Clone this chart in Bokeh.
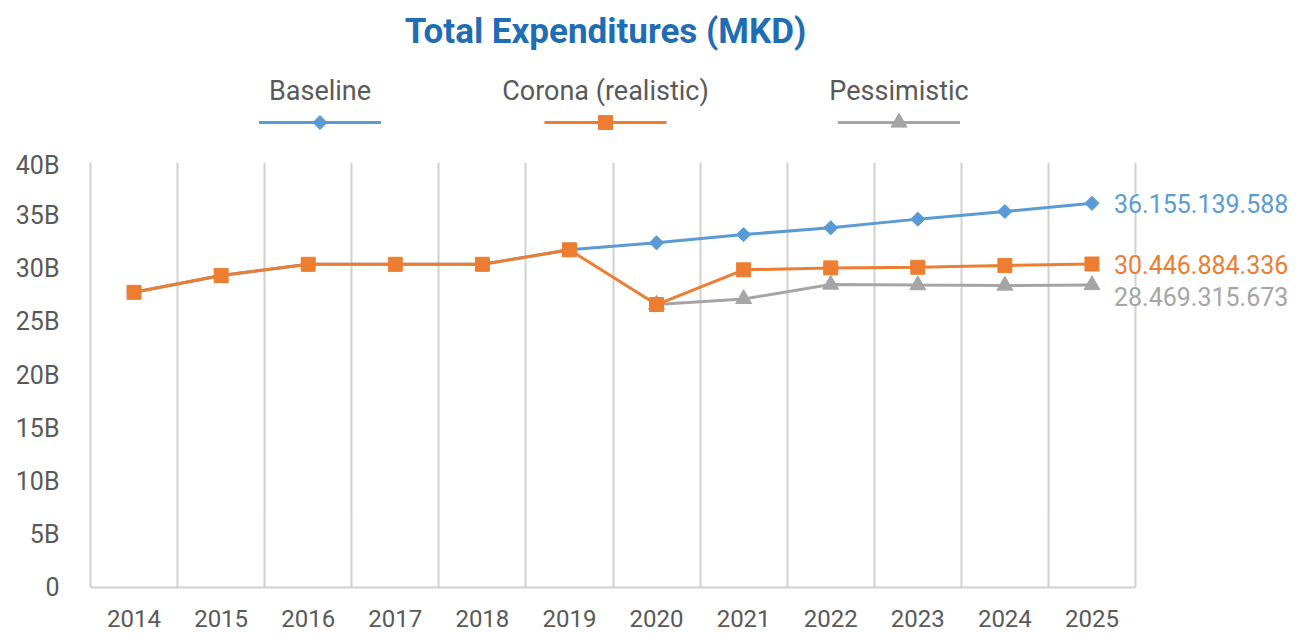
import numpy as np
from bokeh.plotting import figure
from bokeh.models import ColumnDataSource, Range1d, FixedTicker, CustomJSTickFormatter, LabelSet
from bokeh.layouts import column
from bokeh.core.properties import value
from bokeh.embed import file_html
from bokeh.resources import INLINE

# ---------------- data ----------------
title_text = "Total Expenditures (MKD)"
years = ["2014", "2015", "2016", "2017", "2018", "2019",
         "2020", "2021", "2022", "2023", "2024", "2025"]
series_names = ["Baseline", "Corona (realistic)", "Pessimistic"]
series_colors = ["#5B9BD5", "#ED7D31", "#A5A5A5"]

# values in billions of MKD
baseline_b = [27.78, 29.36, 30.42, 30.42, 30.42, 31.78,
              32.44, 33.22, 33.85, 34.67, 35.39, 36.155139588]
corona_b = [27.78, 29.36, 30.42, 30.42, 30.42, 31.78,
            26.63, 29.90, 30.08, 30.14, 30.30, 30.446884336]
pessimistic_b = [None, None, None, None, None, None,
                 26.63, 27.16, 28.51, 28.46, 28.42, 28.469315673]
y_ticks_b = [0, 5, 10, 15, 20, 25, 30, 35, 40]

# ---------------- style ----------------
W = 1298
LEFT = 90
PLOT_RIGHT = 1135
FONT = "Roboto"
TEXT = "#595959"
GRID = "#D0D0D0"
TITLE_COLOR = "#1F6DB5"
markers = ["square", "square", "triangle"]
marker_sizes = [10, 14, 16]
marker_angles = [np.pi / 4, 0, 0]

n = len(years)
xs = np.arange(n) + 0.5
x_end = n * (W - LEFT) / (PLOT_RIGHT - LEFT)

# ---------------- header (title + legend) ----------------
hdr = figure(width=W, height=150, x_range=Range1d(LEFT, W), y_range=Range1d(150, 0),
             x_axis_type=None, y_axis_type=None, toolbar_location=None,
             output_backend="svg", min_border=0, min_border_left=LEFT,
             outline_line_color=None)
hdr.text(x=[605], y=[31], text=[title_text], text_align="center", text_baseline="middle",
         text_font=value(FONT), text_font_style="bold", text_font_size="35px",
         text_color=TITLE_COLOR)
legend_cx = [319.5, 605, 898.5]
for i, name in enumerate(series_names):
    cx = legend_cx[i]
    hdr.text(x=[cx], y=[90], text=[name], text_align="center", text_baseline="middle",
             text_font=value(FONT), text_font_size="27px", text_color=TEXT)
    hdr.line(x=[cx - 61, cx + 61], y=[122, 122], line_color=series_colors[i], line_width=3)
    hdr.scatter(x=[cx], y=[122], marker=markers[i], size=marker_sizes[i],
                angle=marker_angles[i], fill_color=series_colors[i],
                line_color=series_colors[i])

# ---------------- main chart ----------------
p = figure(width=W, height=485, x_range=Range1d(0, x_end), y_range=Range1d(0, 40),
           toolbar_location=None, output_backend="svg",
           min_border_left=LEFT, min_border_right=0, min_border_top=12, min_border_bottom=48,
           outline_line_color=None)

p.xaxis.ticker = FixedTicker(ticks=list(xs))
p.xaxis.formatter = CustomJSTickFormatter(args=dict(labels=years),
                                          code="return labels[Math.floor(tick)];")
p.xaxis.bounds = (0, n)
p.yaxis.ticker = FixedTicker(ticks=y_ticks_b)
p.yaxis.formatter = CustomJSTickFormatter(code="return tick == 0 ? '0' : tick + 'B';")
for ax in (p.xaxis, p.yaxis):
    ax.axis_line_color = GRID
    ax.axis_line_width = 2
    ax.major_tick_line_color = None
    ax.minor_tick_line_color = None
    ax.major_label_text_font = FONT
    ax.major_label_text_color = TEXT
p.xaxis.major_label_text_font_size = "24px"
p.yaxis.major_label_text_font_size = "25px"
p.xaxis.major_label_standoff = 16
p.yaxis.major_label_standoff = 25

p.ygrid.visible = False
p.xgrid.ticker = FixedTicker(ticks=list(range(1, n + 1)))
p.xgrid.grid_line_color = GRID
p.xgrid.grid_line_width = 2

order = [0, 2, 1]  # baseline, pessimistic, corona on top
all_series = [baseline_b, corona_b, pessimistic_b]
for i in order:
    yv = np.array([np.nan if v is None else v for v in all_series[i]], dtype=float)
    src = ColumnDataSource(dict(x=xs, y=yv))
    p.line("x", "y", source=src, line_color=series_colors[i], line_width=3)
    p.scatter("x", "y", source=src, marker=markers[i], size=marker_sizes[i],
              angle=marker_angles[i], fill_color=series_colors[i],
              line_color=series_colors[i])

last_vals = [s[-1] for s in all_series]
end_src = ColumnDataSource(dict(
    x=[xs[-1]] * 3,
    y=last_vals,
    text=[f"{round(v * 1e9):,}".replace(",", ".") for v in last_vals],
    color=series_colors,
    yoff=[0, 0, -11],
))
labels = LabelSet(x="x", y="y", text="text", source=end_src, x_offset=22, y_offset="yoff",
                  text_align="left", text_baseline="middle", text_color="color",
                  text_font=value(FONT), text_font_size="25px",
                  background_fill_color="white")
p.add_layout(labels)

layout = column(hdr, p)
open("out.html", "w").write(file_html(layout, INLINE))
